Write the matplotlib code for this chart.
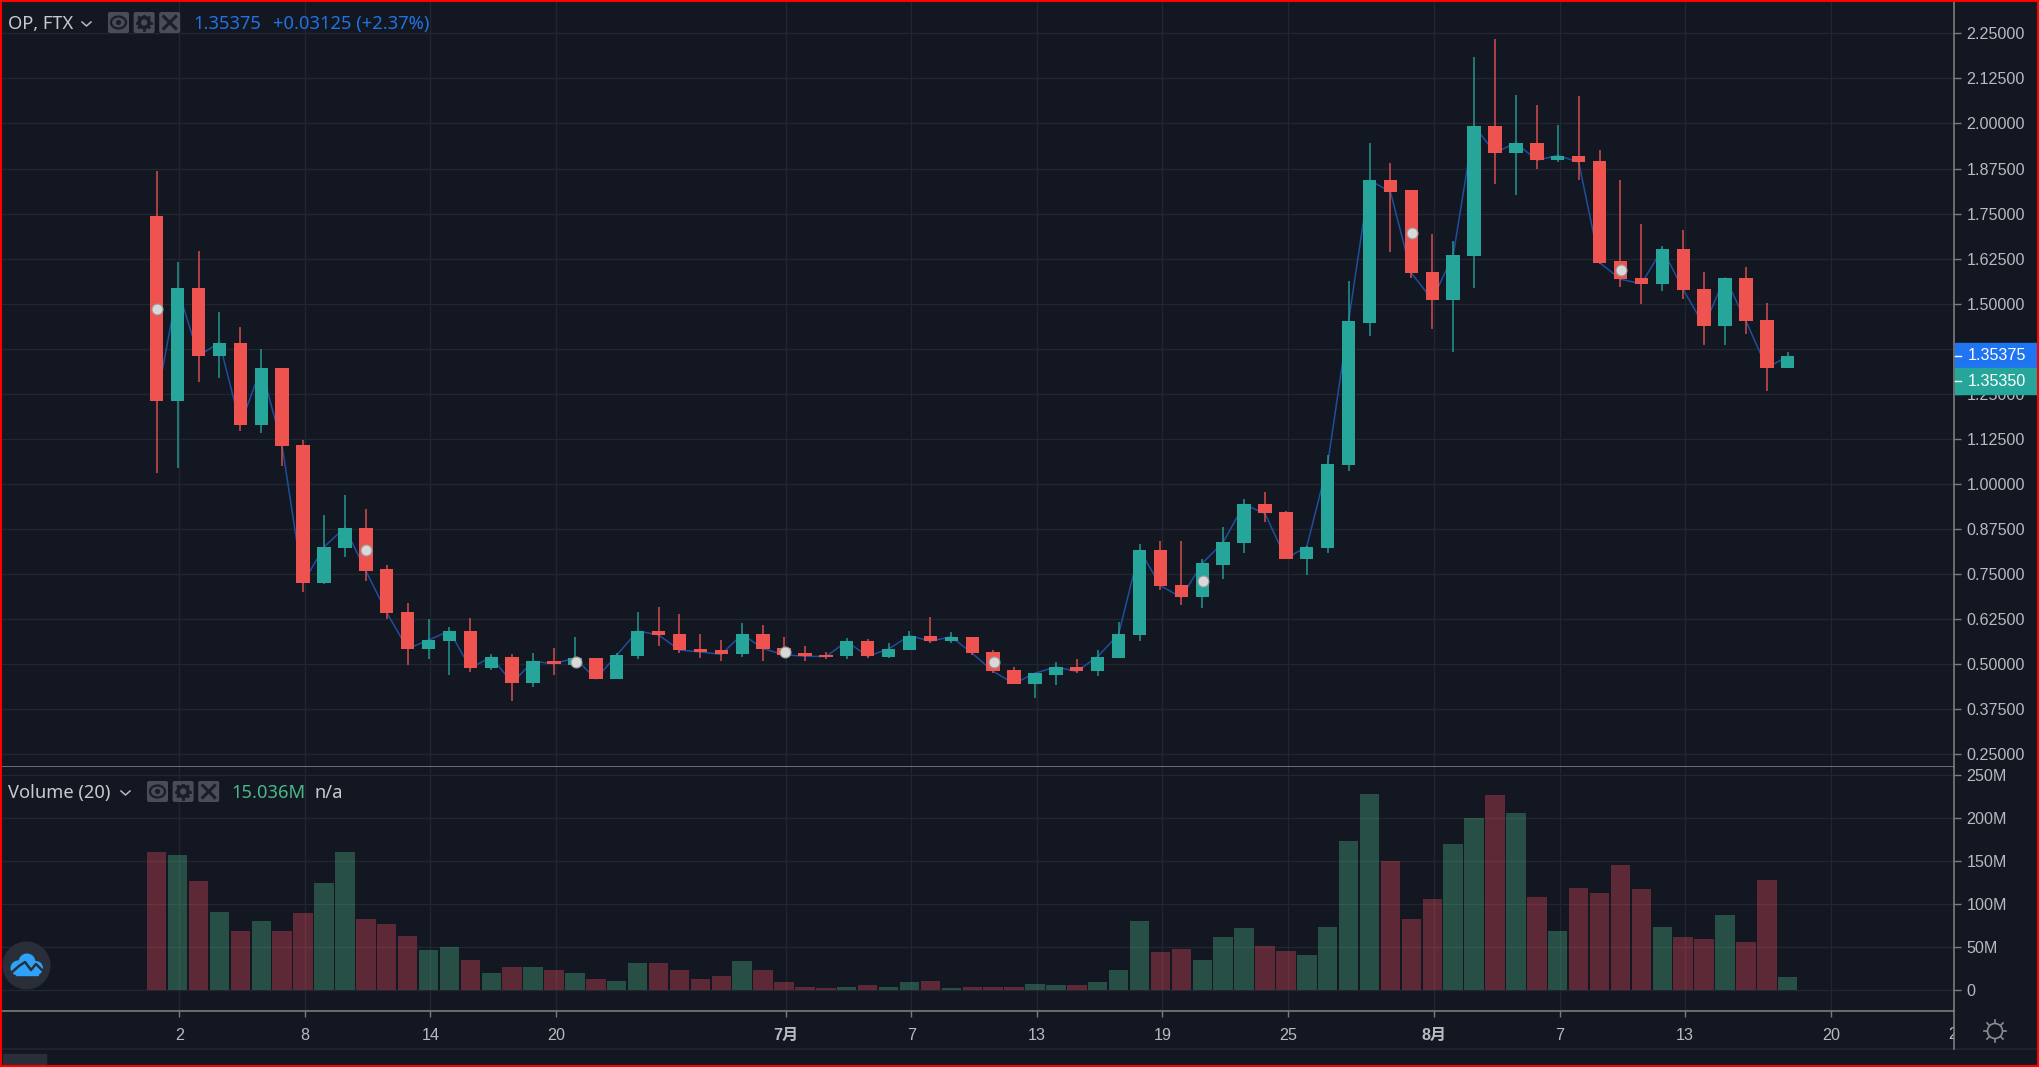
import matplotlib
matplotlib.use("Agg")
import matplotlib.pyplot as plt
from matplotlib.patches import Circle, Ellipse, FancyBboxPatch, Rectangle
from matplotlib.lines import Line2D

# candles, one per day, starts Jun 1
opens = [1.742, 1.231, 1.543, 1.355, 1.392, 1.164, 1.322, 1.109, .725, .823,
         .879, .763, .646, .543, .564, .592, .489, .520, .447, .509,
         .498, .517, .459, .522, .592, .583, .542, .538, .527, .583,
         .546, .530, .526, .522, .563, .521, .538, .579, .563, .576,
         .533, .483, .446, .471, .492, .480, .517, .581, .817, .720,
         .685, .776, .835, .943, .921, .793, .822, 1.052, 1.447, 1.843,
         1.814, 1.588, 1.511, 1.631, 1.993, 1.919, 1.946, 1.898, 1.909, 1.897,
         1.618, 1.572, 1.555, 1.652, 1.542, 1.439, 1.572, 1.455, 1.322]
closes = [1.231, 1.543, 1.355, 1.392, 1.164, 1.322, 1.105, .725, .825, .879,
          .759, .643, .543, .567, .592, .489, .520, .448, .508, .501,
          .517, .459, .525, .592, .581, .539, .534, .527, .583, .543,
          .526, .522, .521, .563, .522, .542, .579, .564, .576, .530,
          .480, .446, .475, .492, .480, .521, .583, .817, .718, .685,
          .780, .838, .943, .918, .793, .826, 1.056, 1.452, 1.843, 1.810,
          1.585, 1.511, 1.634, 1.993, 1.919, 1.946, 1.898, 1.911, 1.893, 1.614,
          1.568, 1.555, 1.652, 1.539, 1.439, 1.572, 1.452, 1.322, 1.354]
highs = [1.868, 1.617, 1.647, 1.476, 1.435, 1.373, 1.322, 1.122, .914, .968,
         .931, .775, .671, .626, .604, .629, .529, .529, .530, .546,
         .576, .517, .532, .646, .659, .639, .584, .568, .614, .609,
         .576, .551, .534, .572, .571, .559, .593, .630, .588, .576,
         .539, .493, .476, .505, .513, .538, .617, .833, .843, .843,
         .792, .880, .958, .977, .926, .829, 1.079, 1.564, 1.947, 1.889,
         1.814, 1.693, 1.673, 2.185, 2.235, 2.080, 2.052, 1.997, 2.077, 1.926,
         1.843, 1.722, 1.660, 1.705, 1.589, 1.572, 1.602, 1.501, 1.365]
lows = [1.031, 1.043, 1.284, 1.294, 1.146, 1.142, 1.051, .701, .721, .797,
        .730, .626, .497, .513, .471, .479, .484, .397, .438, .471,
        .495, .459, .459, .513, .550, .530, .517, .509, .521, .508,
        .522, .508, .513, .513, .517, .517, .538, .559, .559, .526,
        .475, .446, .405, .443, .475, .468, .517, .565, .706, .664,
        .656, .735, .809, .893, .793, .747, .809, 1.035, 1.410, 1.643,
        1.572, 1.430, 1.365, 1.543, 1.831, 1.802, 1.873, 1.893, 1.843, 1.609,
        1.546, 1.500, 1.534, 1.513, 1.384, 1.384, 1.417, 1.257, 1.322]
volumes = [160, 157, 126, 90.5, 68, 80, 68, 89, 124, 160,
           82, 76.6, 62.7, 47, 50, 35, 19.3, 26.3, 26.3, 22.8,
           19.3, 12.4, 10.8, 31.3, 31.3, 22.8, 12.4, 15.9, 33.3, 22.8,
           8.9, 3.5, 1.9, 3.5, 5.4, 3.5, 8.9, 10.4, 1.9, 3.5,
           3.5, 3.5, 7, 5.4, 5.4, 8.7, 22.8, 80.5, 43.7, 47.2,
           34.8, 61, 71.6, 50.7, 45.3, 40.2, 73, 172.5, 228, 150,
           82, 106, 169, 200, 226.7, 205.8, 108, 68, 118.8, 113,
           144.7, 116.8, 73, 61, 59.6, 87, 55.7, 127.3, 15.036]

dot_days = [0, 10, 20, 30, 40, 50, 60, 70]
dot_prices = [1.484, .818, .505, .534, .505, .730, 1.697, 1.593]

price_ticks = [.25, .375, .5, .625, .75, .875, 1.0, 1.125, 1.25, 1.375, 1.5, 1.625,
               1.75, 1.875, 2.0, 2.125, 2.25]
volume_ticks = [0, 50, 100, 150, 200, 250]
volume_labels = ["0", "50M", "100M", "150M", "200M", "250M"]
date_ticks = [1, 7, 13, 19, 30, 36, 42, 48, 54, 61, 67, 73, 80]
date_labels = ["2", "8", "14", "20", "7月", "7", "13", "19", "25", "8月", "7", "13", "20"]
# this one falls on the price scale and gets cut off there
cut_tick = 86
cut_label = "26"

BG = "#121722"
GRID = "#212631"
AXIS = "#7c7c7c"
TEXT = "#b8bac0"
UP = "#26a69a"
DOWN = "#ef5350"
W, H = 2039, 1067

plt.rcParams["font.family"] = ["Liberation Sans", "Noto Sans CJK SC", "DejaVu Sans"]

fig = plt.figure(figsize=(W / 100, H / 100), dpi=100, facecolor=BG)


def pane(x0, y0, x1, y1):
    return fig.add_axes([x0 / W, 1 - y1 / H, (x1 - x0) / W, (y1 - y0) / H], facecolor=BG)


ax = pane(2, 2, 1954, 767)
vol = pane(2, 767, 1954, 1011)

days = list(range(len(opens)))
up = [c >= o for o, c in zip(opens, closes)]
colors = [UP if u else DOWN for u in up]

# closing line sits under the candles
ax.plot(days, closes, color="#1f4e9c", lw=1.1, zorder=2)
ax.vlines(days, lows, highs, colors=colors, lw=1.15, alpha=.85, zorder=3)
ax.bar(days, [abs(c - o) for o, c in zip(opens, closes)],
       bottom=[min(o, c) for o, c in zip(opens, closes)],
       width=.64, color=colors, zorder=4)
ax.scatter([d + .03 for d in dot_days], dot_prices, s=62, color="#d9d9d9",
           edgecolors="#9c9c9c", linewidths=.8, zorder=5)

vol_colors = ["#53b987" if u else "#eb4d5c" for u in up]
vol.bar(days, volumes, width=.93, color=vol_colors, alpha=.35, zorder=3)

for a in (ax, vol):
    a.set_xticks([d + .09 for d in date_ticks])
    a.set_xlim(-7.398, 85.95)
    a.grid(True, color=GRID, lw=1.0)
    a.set_axisbelow(True)
    a.yaxis.tick_right()
    for s in ("top", "left"):
        a.spines[s].set_visible(False)
    for s in ("bottom", "right"):
        a.spines[s].set_color(AXIS)
        a.spines[s].set_linewidth(1.2)
    a.tick_params(axis="y", length=5, width=1, color=AXIS, labelcolor=TEXT,
                  labelsize=11.6, pad=4)

ax.set_ylim(.2147, 2.3369)
ax.set_yticks(price_ticks)
# 1.37500 is hidden behind the last price tag
ax.set_yticklabels(["" if p == 1.375 else "%.5f" % p for p in price_ticks])
ax.tick_params(axis="x", length=0, labelbottom=False)

vol.set_ylim(-24.4, 258.9)
vol.set_yticks(volume_ticks)
vol.set_yticklabels(volume_labels)
vol.tick_params(axis="x", length=4.5, width=1, color=AXIS, labelcolor=TEXT, labelsize=11.6, pad=8)
vol.set_xticklabels(date_labels)
for lab, txt in zip(vol.get_xticklabels(), date_labels):
    if "月" in txt:
        lab.set_fontweight("bold")

vol.text(cut_tick + .09, -.098, cut_label, color=TEXT, fontsize=11.6, ha="center", va="center",
         transform=vol.get_xaxis_transform(), clip_on=False, zorder=1)

# everything else is chart ui, drawn in pixel coords
ui = fig.add_axes([0, 0, 1, 1], facecolor="none")
ui.set_xlim(0, W)
ui.set_ylim(H, 0)
ui.axis("off")

# covers the part of the last date label that runs under the price scale
ui.add_patch(Rectangle((1955, 1012), 84, 37, color=BG, zorder=1))
ui.plot([1954, 1954], [1011, 1049], color=AXIS, lw=1.2, zorder=2)
ui.plot([0, 1954], [1049, 1049], color=GRID, lw=1.1, zorder=1)
ui.plot([1955, W], [1049, 1049], color=GRID, lw=1.1, zorder=1)
ui.add_patch(Rectangle((3, 1054), 43, 12, color="#2a2e39", zorder=1))


def buttons(x0, y0):
    for i in range(3):
        x = x0 + i * 25.6
        ui.add_patch(FancyBboxPatch((x + 2, y0 + 2), 17, 17, boxstyle="round,pad=2",
                                    fc="#4a4d57", ec="none", zorder=3))
    # eye
    cx, cy = x0 + 10.5, y0 + 10.5
    ui.add_patch(Ellipse((cx, cy), 15, 12, fc="none", ec="#1a1e29", lw=1.6, zorder=4))
    ui.add_patch(Circle((cx, cy), 2.6, fc="#1a1e29", ec="none", zorder=4))
    # gear
    cx += 25.6
    ui.add_patch(Circle((cx, cy), 5, fc="none", ec="#1a1e29", lw=2.6, zorder=4))
    for dx, dy in [(0, -7), (0, 7), (-7, 0), (7, 0), (-5, -5), (5, 5), (-5, 5), (5, -5)]:
        ui.plot([cx + dx * .8, cx + dx], [cy + dy * .8, cy + dy], color="#1a1e29", lw=2, zorder=4)
    # cross
    cx += 25.6
    ui.plot([cx - 6, cx + 6], [cy - 6, cy + 6], color="#1a1e29", lw=2.2, zorder=4)
    ui.plot([cx - 6, cx + 6], [cy + 6, cy - 6], color="#1a1e29", lw=2.2, zorder=4)


def chevron(x, y):
    ui.plot([x, x + 4.5, x + 9], [y, y + 4, y], color=TEXT, lw=1.1, zorder=3)


HEAD = ["Noto Sans", "DejaVu Sans"]
ui.text(8, 24, "OP, FTX", color="#c8c9cc", fontsize=13.2, va="center", family=HEAD)
chevron(82, 22)
buttons(108, 12)
ui.text(193, 24, "1.35375", color="#2272e0", fontsize=13.2, va="center", family=HEAD)
ui.text(273, 24, "+0.03125 (+2.37%)", color="#2272e0", fontsize=13.2, va="center", family=HEAD)

ui.text(8, 793, "Volume (20)", color="#c8c9cc", fontsize=13.2, va="center", family=HEAD)
chevron(121, 791)
buttons(147, 781)
ui.text(231, 793, "15.036M", color="#4db886", fontsize=13.2, va="center", family=HEAD)
ui.text(315, 793, "n/a", color="#c8c9cc", fontsize=13.2, va="center", family=HEAD)

# last price tags on the price scale
ui.add_patch(Rectangle((1955, 343), 82, 25, color="#1f74f2", zorder=5))
ui.add_patch(Rectangle((1955, 368), 82, 26, color=UP, zorder=5))
ui.plot([1955, 1961], [355.5, 355.5], color="white", lw=1, zorder=6)
ui.plot([1955, 1961], [381, 381], color="white", lw=1, zorder=6)
ui.text(1968, 355.5, "1.35375", color="white", fontsize=11.6, va="center", zorder=6)
ui.text(1968, 381, "1.35350", color="white", fontsize=11.6, va="center", zorder=6)

# logo bottom left
ui.add_patch(Circle((26.5, 965.5), 24, fc="#2a2e39", ec="none", zorder=5))
for cx, cy, r in [(18, 968, 7.5), (27, 962, 8.5), (36, 968, 7)]:
    ui.add_patch(Circle((cx, cy), r, fc="#2ea1f8", ec="none", zorder=6))
ui.add_patch(Rectangle((16, 965), 22, 10, color="#2ea1f8", zorder=6))
ui.plot([11, 19, 25, 31, 36, 42], [973, 966, 962, 970, 964, 970], color="#2a2e39", lw=1.8, zorder=7)

# settings icon
ui.add_patch(Circle((1995, 1031), 7.5, fc="none", ec="#8a8c92", lw=1.2, zorder=3))
for dx, dy in [(0, -11), (0, 11), (-11, 0), (11, 0), (-8, -8), (8, 8), (-8, 8), (8, -8)]:
    ui.add_artist(Line2D([1995 + dx * .75, 1995 + dx], [1031 + dy * .75, 1031 + dy], color="#8a8c92", lw=1.2))

# red frame of the screenshot
ui.add_patch(Rectangle((.8, .8), W - 1.6, H - 1.6, fc="none", ec="#ff0000", lw=1.5, zorder=10))

fig.savefig("out.png", dpi=100, facecolor=BG)
